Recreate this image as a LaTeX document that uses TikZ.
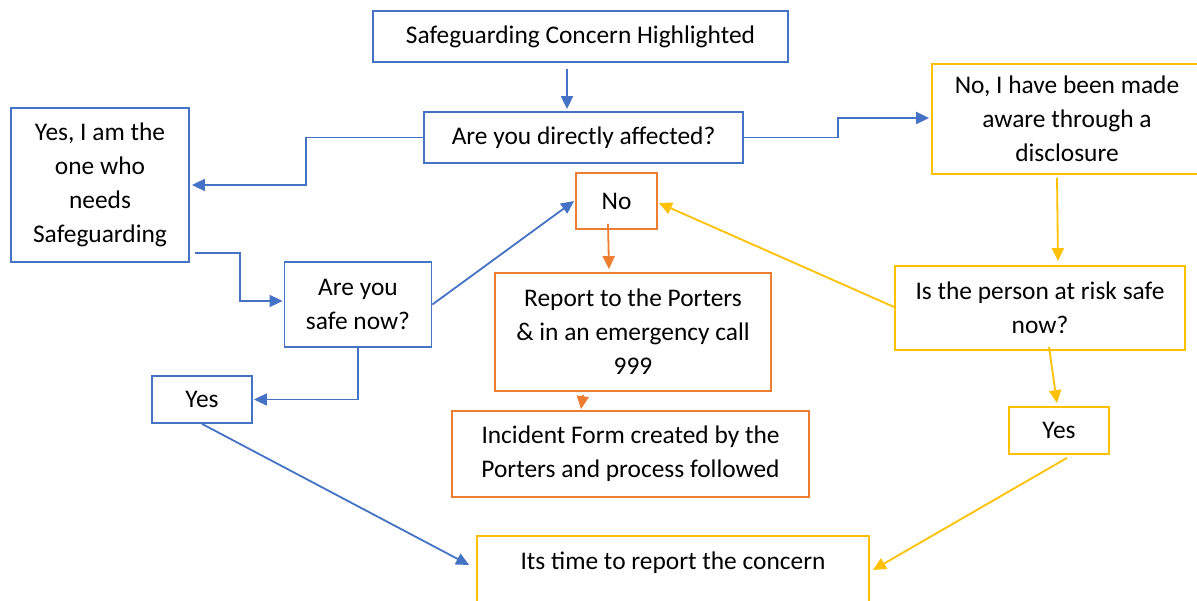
\documentclass[tikz,border=0pt]{standalone}
\usepackage{fontspec}
\setmainfont{Carlito}
\usetikzlibrary{arrows.meta}
\definecolor{cblue}{HTML}{4472C4}
\definecolor{corange}{HTML}{ED7D31}
\definecolor{cgold}{HTML}{FFC000}
\tikzset{
  box/.style={draw, rectangle, line width=1.8pt, inner sep=0pt, align=center,
    font=\fontsize{25.4}{34}\selectfont, text=black},
  bluebox/.style={box, draw=cblue},
  orangebox/.style={box, draw=corange},
  goldbox/.style={box, draw=cgold},
  conn/.style={line width=1.8pt, -{Triangle[length=13pt,width=12pt]}},
  barrow/.style={conn, draw=cblue},
  oarrow/.style={conn, draw=corange},
  garrow/.style={conn, draw=cgold},
  lbl/.style={font=\fontsize{25.4}{34}\selectfont, text=black, inner sep=0pt}
}
\begin{document}
\begin{tikzpicture}[x=1pt,y=-1pt]
\useasboundingbox (0,0) rectangle (1197,601);
% boxes
\node[bluebox, minimum width=415, minimum height=51] (top) at (580.5,36.5) {Safeguarding Concern Highlighted};
\node[bluebox, minimum width=319, minimum height=51] (aff) at (583.5,137.5) {Are you directly affected?};
\node[bluebox, minimum width=178, minimum height=154] (yesneed) at (100,185) {Yes, I am the\\one who\\needs\\Safeguarding};
\node[goldbox, minimum width=270, minimum height=110] (disc) at (1067,119) {No, I have been made\\aware through a\\disclosure};
\node[bluebox, minimum width=147, minimum height=85] (safe) at (358,304.5) {Are you\\safe now?};
\node[bluebox, minimum width=100, minimum height=47] (yesL) at (202,399.5) {Yes};
\node[orangebox, minimum width=81, minimum height=56] (no) at (616.5,201) {No};
\node[orangebox, minimum width=276, minimum height=118] (rep) at (633,332) {Report to the Porters\\\& in an emergency call\\999};
\node[orangebox, minimum width=357, minimum height=86] (inc) at (630.5,454) {Incident Form created by the\\Porters and process followed};
\node[goldbox, minimum width=290, minimum height=84] (risk) at (1040,308) {Is the person at risk safe\\now?};
\node[goldbox, minimum width=100, minimum height=47] (yesR) at (1059,430.5) {Yes};
\node[goldbox, minimum width=392, minimum height=84] (time) at (673,578) {};
\node[lbl] (timetext) at (673,563) {Its time to report the concern};
% connectors
\draw[barrow] ([xshift=-13.5pt,yshift=-6pt]top.south) -- ([xshift=-16.5pt,yshift=2pt]aff.north);
\draw[barrow] (aff.west) -- ++(-117,0) |- ([xshift=2pt]yesneed.east);
\draw[barrow] (aff.east) -- ++(94,0) |- ([xshift=-2pt,yshift=1pt]disc.west);
\draw[barrow] ([xshift=5pt,yshift=10pt]yesneed.south east) -- ++(45,0) |- ([xshift=-1pt,yshift=3.5pt]safe.west);
\draw[barrow] (safe.east) -- ([xshift=-1pt]no.west);
\draw[barrow] (safe.south) |- ([xshift=1pt]yesL.east);
\draw[barrow] (yesL.south) -- ([xshift=-7pt,yshift=13pt]time.west);
\draw[oarrow] ([xshift=-8.5pt,yshift=6pt]no.south) -- ([xshift=-24pt,yshift=3pt]rep.north);
\draw[oarrow] ([xshift=-50pt,yshift=-3pt]rep.south) -- ([xshift=-49.5pt,yshift=1pt]inc.north);
\draw[garrow] ([yshift=1pt]risk.west) -- ([xshift=1pt,yshift=-2pt]no.east);
\draw[garrow] ([xshift=-10pt,yshift=-3pt]disc.south) -- ([xshift=18pt,yshift=4pt]risk.north);
\draw[garrow] ([xshift=9pt,yshift=4pt]risk.south) -- ([xshift=-2pt,yshift=3pt]yesR.north);
\draw[garrow] ([xshift=8pt,yshift=-3pt]yesR.south) -- ([xshift=3pt,yshift=8pt]time.east);
\end{tikzpicture}
\end{document}
